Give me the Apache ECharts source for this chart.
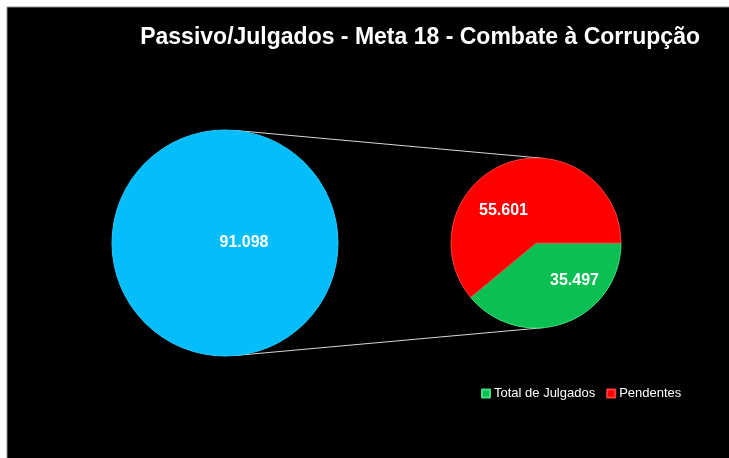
<!DOCTYPE html>
<html>
<head>
<meta charset="utf-8">
<style>
  html, body { margin: 0; padding: 0; background: #fff; }
  #chart { width: 729px; height: 458px; }
</style>
<script src="https://cdn.jsdelivr.net/npm/echarts@6/dist/echarts.min.js"></script>
</head>
<body>
<div id="chart"></div>
<script>
  // dados
  var passivoNome = ['Passivo'];
  var passivoValor = [91098];
  var categorias = ['Total de Julgados', 'Pendentes'];
  var valores = [35497, 55601];
  var cores = ['#0cbf52', '#ff0000'];

  var titulo = 'Passivo/Julgados - Meta 18 - Combate à Corrupção';

  // geometria das duas pizzas
  var bigC = [225, 243], bigR = 113;
  var smallC = [536, 243], smallR = 85;

  function fmt(v) {
    return String(v).replace(/\B(?=(\d{3})+(?!\d))/g, '.');
  }

  // linhas tangentes externas entre os dois círculos
  var d = smallC[0] - bigC[0];
  var s = (bigR - smallR) / d;
  var c = Math.sqrt(1 - s * s);
  function linha(sinal) {
    return {
      type: 'line',
      shape: {
        x1: bigC[0] + bigR * s, y1: bigC[1] + sinal * bigR * c,
        x2: smallC[0] + smallR * s, y2: smallC[1] + sinal * smallR * c
      },
      style: { stroke: '#d9d9d9', lineWidth: 1 },
      z: 1
    };
  }

  var myChart = echarts.init(document.getElementById('chart'));
  myChart.setOption({
    backgroundColor: '#fff',
    animation: false,
    title: {
      text: titulo,
      right: 29,
      top: 26,
      padding: 0,
      textStyle: {
        color: '#fff',
        fontFamily: 'Liberation Sans',
        fontWeight: 'bold',
        fontSize: 23
      }
    },
    legend: {
      data: categorias,
      left: 481,
      top: 387,
      padding: 0,
      icon: 'rect',
      itemWidth: 8,
      itemHeight: 8,
      itemGap: 11,
      selectedMode: false,
      textStyle: {
        color: '#fff',
        fontFamily: 'Liberation Sans',
        fontSize: 13,
        padding: [0, 0, 0, -1]
      }
    },
    graphic: [
      {
        type: 'rect',
        shape: { x: 7, y: 7, width: 730, height: 460 },
        style: { fill: '#000', stroke: '#8c8c8c', lineWidth: 1 },
        z: 0
      },
      linha(-1),
      linha(1)
    ],
    series: [
      {
        name: 'Passivo',
        type: 'pie',
        center: bigC,
        radius: bigR,
        silent: true,
        label: {
          show: true,
          position: 'center',
          offset: [19, 0],
          color: '#fff',
          fontFamily: 'Liberation Sans',
          fontWeight: 'bold',
          fontSize: 16,
          formatter: function (p) { return fmt(p.value); }
        },
        labelLine: { show: false },
        itemStyle: { color: '#04bdfb', borderColor: '#22c8ff', borderWidth: 1 },
        data: passivoNome.map(function (n, i) {
          return { name: n, value: passivoValor[i] };
        })
      },
      {
        name: 'Julgados',
        type: 'pie',
        center: smallC,
        radius: smallR,
        startAngle: 0,
        clockwise: true,
        silent: true,
        label: {
          show: true,
          position: 'inside',
          color: '#fff',
          fontFamily: 'Liberation Sans',
          fontWeight: 'bold',
          fontSize: 16,
          formatter: function (p) { return fmt(p.value); }
        },
        labelLine: { show: false },
        data: categorias.map(function (n, i) {
          return {
            name: n,
            value: valores[i],
            itemStyle: { color: cores[i], borderColor: i === 0 ? '#3fe07f' : '#ff3b3b', borderWidth: 1 },
            label: { offset: i === 0 ? [23, -5] : [-17, 10] }
          };
        })
      }
    ]
  });
</script>
</body>
</html>
